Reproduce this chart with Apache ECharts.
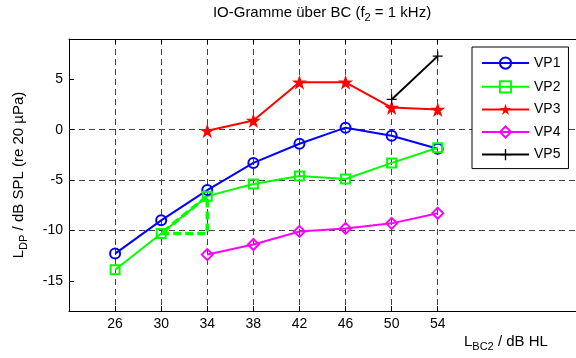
<!DOCTYPE html>
<html>
<head>
<meta charset="utf-8">
<script src="https://cdn.jsdelivr.net/npm/echarts@6/dist/echarts.min.js"></script>
<style>
html, body { margin: 0; padding: 0; background: #fff; }
#chart { width: 576px; height: 358px; }
</style>
</head>
<body>
<div id="chart"></div>
<script>
// x axis runs from 22 to 66 in steps of 4, only 26..54 are labelled
let xCategories = ['22', '26', '30', '34', '38', '42', '46', '50', '54', '58', '62', '66']
let xTickLabels = ['26', '30', '34', '38', '42', '46', '50', '54']
let yTickLabels = [-15, -10, -5, 0, 5]

let vp1X = [26, 30, 34, 38, 42, 46, 50, 54]
let vp1Y = [-12.3, -9.0, -6.0, -3.3, -1.4, 0.2, -0.6, -1.9]
let vp2X = [26, 30, 34, 38, 42, 46, 50, 54]
let vp2Y = [-13.9, -10.3, -6.6, -5.4, -4.6, -4.9, -3.3, -1.8]
let vp3X = [34, 38, 42, 46, 50, 54]
let vp3Y = [-0.1, 0.9, 4.7, 4.7, 2.2, 2.0]
let vp4X = [34, 38, 42, 46, 50, 54]
let vp4Y = [-12.4, -11.4, -10.1, -9.8, -9.3, -8.3]
let vp5X = [50, 54]
let vp5Y = [3.0, 7.3]
// dashed green triangle next to VP2
let triX = [30, 34, 34, 30]
let triY = [-10.3, -10.3, -6.6, -10.3]

let pairs = (xs, ys) => xs.map((x, i) => [String(x), ys[i]])

let starPath = 'path://M50 0L61.2 34.6L97.6 34.5L68.1 55.9L79.4 90.5L50 69L20.6 90.5L31.9 55.9L2.4 34.5L38.8 34.6Z'
let plusPath = 'path://M4.4 0H5.6V4.4H10V5.6H5.6V10H4.4V5.6H0V4.4H4.4Z'

let font = 'Liberation Sans, Arial, Helvetica, sans-serif'
let showX = (idx, val) => xTickLabels.indexOf(String(val)) >= 0
let richSub = (size, lh) => ({
    a: { fontSize: size, color: '#000', fill: '#000', fontFamily: font, lineHeight: lh, verticalAlign: 'middle' },
    s: { fontSize: Math.round(size * 0.7), color: '#000', fill: '#000', fontFamily: font, lineHeight: lh, verticalAlign: 'bottom' }
})

let makeLine = (name, data, color, symbol, size, filled) => ({
    name: name,
    type: 'line',
    data: data,
    symbol: symbol,
    symbolSize: size,
    showAllSymbol: true,
    lineStyle: { color: color, width: 2 },
    itemStyle: filled
        ? { color: color, borderColor: color, borderWidth: 0 }
        : { color: 'none', borderColor: color, borderWidth: 2 },
    emphasis: { disabled: true },
    z: 3
})

let mychart = echarts.init(document.getElementById('chart'))
let options = {
    animation: false,
    backgroundColor: '#fff',
    textStyle: { fontFamily: font },
    grid: { left: 69, right: 0, top: 39, bottom: 47, containLabel: false },
    xAxis: [
        {
            type: 'category',
            data: xCategories,
            boundaryGap: false,
            position: 'bottom',
            axisLine: { onZero: false, lineStyle: { color: '#000', width: 1 } },
            axisTick: { inside: true, length: 5, interval: showX, lineStyle: { color: '#000' } },
            axisLabel: { interval: showX, color: '#000', fontSize: 14, margin: 6, fontFamily: font },
            splitLine: { show: true, interval: showX, lineStyle: { color: '#444', type: [6, 4], width: 1 } }
        },
        {
            type: 'category',
            data: xCategories,
            boundaryGap: false,
            position: 'top',
            axisLine: { onZero: false, lineStyle: { color: '#000', width: 1 } },
            axisTick: { inside: true, length: 5, interval: showX, lineStyle: { color: '#000' } },
            axisLabel: { show: false },
            splitLine: { show: false }
        }
    ],
    yAxis: {
        type: 'value',
        min: -18,
        max: 9,
        axisLine: { show: true, lineStyle: { color: '#000', width: 1 } },
        axisTick: { show: true, inside: true, length: 5, customValues: yTickLabels, lineStyle: { color: '#000' } },
        axisLabel: {
            color: '#000', fontSize: 14, margin: 6, fontFamily: font,
            customValues: yTickLabels
        },
        splitLine: { show: true, showMinLine: false, showMaxLine: false, lineStyle: { color: '#444', type: [6, 4], width: 1 } },
        name: '{a|L}{s|DP}{a| / dB SPL (re 20 µPa)}',
        nameLocation: 'middle',
        nameRotate: 90,
        nameGap: 40,
        nameTextStyle: { rich: richSub(15, 20) }
    },
    legend: {
        orient: 'vertical',
        left: 472,
        top: 47,
        padding: [8, 8, 7, 9],
        itemWidth: 47,
        itemHeight: 14,
        itemGap: 7.5,
        backgroundColor: '#fff',
        borderColor: '#000',
        borderWidth: 1,
        borderRadius: 0,
        textStyle: { color: '#000', fontSize: 14, fontFamily: font },
        data: ['VP1', 'VP2', 'VP3', 'VP4', 'VP5']
    },
    graphic: [
        {
            type: 'text',
            x: 322,
            y: 13,
            style: {
                text: '{a|IO-Gramme über BC (f}{s|2}{a| = 1 kHz)}',
                align: 'center',
                verticalAlign: 'middle',
                rich: richSub(15, 20)
            }
        },
        {
            type: 'text',
            x: 464,
            y: 342,
            style: {
                text: '{a|L}{s|BC2}{a| / dB HL}',
                align: 'left',
                verticalAlign: 'middle',
                rich: richSub(15, 20)
            }
        }
    ],
    series: [
        makeLine('VP1', pairs(vp1X, vp1Y), '#0000ff', 'circle', 10, false),
        makeLine('VP2', pairs(vp2X, vp2Y), '#00ff00', 'rect', 9, false),
        makeLine('VP3', pairs(vp3X, vp3Y), '#ff0000', starPath, 15, true),
        makeLine('VP4', pairs(vp4X, vp4Y), '#ff00ff', 'diamond', 11, false),
        makeLine('VP5', pairs(vp5X, vp5Y), '#000000', plusPath, 10, true),
        {
            name: 'VP2 triangle',
            type: 'line',
            data: pairs(triX, triY),
            symbol: 'none',
            lineStyle: { color: '#00ff00', width: 3.5, type: [8, 4] },
            emphasis: { disabled: true },
            z: 4
        }
    ]
}
mychart.setOption(options)
window.addEventListener('resize', () => {
    mychart?.resize()
})
</script>
</body>
</html>
